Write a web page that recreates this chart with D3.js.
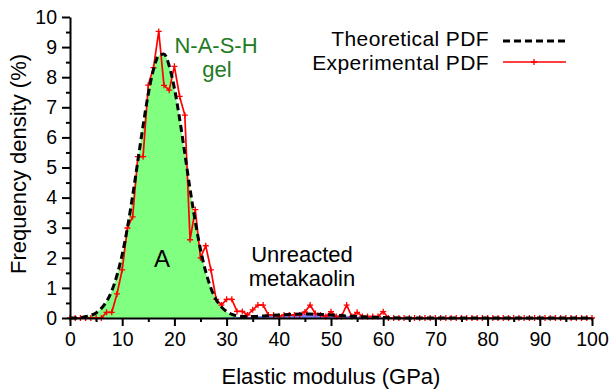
<!DOCTYPE html>
<html>
<head>
<meta charset="utf-8">
<script src="https://cdn.jsdelivr.net/npm/d3@7"></script>
<style>
  body { margin: 0; background: #fff; }
  svg text { font-family: "Liberation Sans", Arial, sans-serif; }
</style>
</head>
<body>
<svg id="chart" width="612" height="389"></svg>
<script>
// experimental histogram, one point per GPa (0..100)
const expE = d3.range(0, 101);
const expF = [0, 0, 0, 0, 0, 0, 0, 0.19, 0.19, 0.8,
  1.6, 2.99, 3.36, 5.36, 5.36, 7.74, 8.32, 9.52, 7.73, 7.57,
  8.36, 7.36, 6.74, 2.6, 3.6, 2.0, 2.4, 1.6, 0.62, 0.43,
  0.62, 0.62, 0.22, 0.22, 0.1, 0.27, 0.43, 0.43, 0.1, 0.1,
  0.05, 0.1, 0.1, 0.1, 0.1, 0.2, 0.43, 0.15, 0.1, 0.05,
  0.21, 0.05, 0.05, 0.43, 0.05, 0.19, 0.05, 0.05, 0.05, 0.05,
  0.21, 0, 0, 0, 0, 0, 0, 0, 0, 0,
  0, 0, 0, 0, 0, 0, 0, 0, 0, 0,
  0, 0, 0, 0, 0, 0, 0, 0, 0, 0,
  0, 0, 0, 0, 0, 0, 0, 0, 0, 0, 0];

// theoretical PDF (N-A-S-H phase + unreacted metakaolin phase)
const theoE = [0, 1, 2, 3, 4, 5, 6, 7, 8, 9, 10, 11, 12, 13, 14, 15, 16, 17, 18, 19,
  20, 21, 22, 23, 24, 25, 26, 27, 28, 29, 30, 31, 32, 33, 34, 35,
  36, 38, 40, 42, 44, 46, 48, 50, 52, 54, 56, 58, 60, 62, 64, 100];
const theoMain = [0, 0, 0.01, 0.05, 0.09, 0.17, 0.32, 0.55, 0.9, 1.42,
  2.11, 3.0, 4.06, 5.22, 6.39, 7.45, 8.26, 8.72, 8.77, 8.38,
  7.63, 6.62, 5.46, 4.28, 3.2, 2.28, 1.54, 0.99, 0.61, 0.36,
  0.2, 0.1, 0.05, 0.02, 0.01, 0,
  0, 0, 0, 0, 0, 0, 0, 0, 0, 0, 0, 0, 0, 0, 0, 0];
const theoMinor = [0, 0, 0, 0, 0, 0, 0, 0, 0, 0,
  0, 0, 0, 0, 0, 0, 0, 0, 0, 0,
  0, 0, 0, 0, 0, 0, 0, 0, 0, 0.01,
  0.013, 0.018, 0.023, 0.03, 0.038, 0.047,
  0.057, 0.079, 0.1, 0.118, 0.129, 0.129, 0.118, 0.1, 0.079, 0.057,
  0.038, 0.023, 0.013, 0.006, 0.003, 0];
const theoTotal = [0, 0, 0.01, 0.05, 0.09, 0.17, 0.32, 0.55, 0.9, 1.42,
  2.11, 3.0, 4.06, 5.22, 6.39, 7.45, 8.26, 8.72, 8.77, 8.38,
  7.63, 6.62, 5.46, 4.28, 3.2, 2.28, 1.54, 0.99, 0.61, 0.37,
  0.213, 0.118, 0.073, 0.05, 0.048, 0.047,
  0.057, 0.079, 0.1, 0.118, 0.129, 0.129, 0.118, 0.1, 0.079, 0.057,
  0.038, 0.023, 0.013, 0.006, 0.003, 0];

const xTicks = [0, 10, 20, 30, 40, 50, 60, 70, 80, 90, 100];
const yTicks = [0, 1, 2, 3, 4, 5, 6, 7, 8, 9, 10];
const xMinor = [5, 15, 25, 35, 45, 55, 65, 75, 85, 95];
const yMinor = [0.5, 1.5, 2.5, 3.5, 4.5, 5.5, 6.5, 7.5, 8.5, 9.5];

const svg = d3.select("#chart");
const x = d3.scaleLinear().domain([0, 100]).range([70, 592]);
const y = d3.scaleLinear().domain([0, 10]).range([318, 17]);

const theo = theoE.map((e, i) => ({ e: e, main: theoMain[i], minor: theoMinor[i], total: theoTotal[i] }));
const exp = expE.map((e, i) => ({ e: e, f: expF[i] }));

// filled phases
svg.append("path")
  .datum(theo)
  .attr("fill", "#80ff80")
  .attr("d", d3.area().x(d => x(d.e)).y0(y(0)).y1(d => y(d.main)).curve(d3.curveMonotoneX));
svg.append("path")
  .datum(theo)
  .attr("fill", "#8080ff")
  .attr("d", d3.area().x(d => x(d.e)).y0(y(0)).y1(d => y(d.minor)).curve(d3.curveMonotoneX));

// experimental line with + markers
svg.append("path")
  .datum(exp)
  .attr("fill", "none")
  .attr("stroke", "#ff0000")
  .attr("stroke-width", 1.7)
  .attr("d", d3.line().x(d => x(d.e)).y(d => y(d.f)));
svg.append("g").selectAll("path")
  .data(exp)
  .join("path")
  .attr("transform", d => "translate(" + x(d.e) + "," + y(d.f) + ")")
  .attr("d", "M-3,0H3M0,-3V3")
  .attr("stroke", "#ff0000")
  .attr("stroke-width", 1.3);

// theoretical dashed
svg.append("path")
  .datum(theo)
  .attr("fill", "none")
  .attr("stroke", "#000")
  .attr("stroke-width", 3)
  .attr("stroke-dasharray", "7,4")
  .attr("d", d3.line().x(d => x(d.e)).y(d => y(d.total)).curve(d3.curveMonotoneX));

// axes
svg.append("g")
  .attr("transform", "translate(0," + y(0) + ")")
  .call(d3.axisBottom(x).tickValues(xTicks).tickSize(8).tickSizeOuter(0).tickPadding(6));
svg.append("g")
  .attr("transform", "translate(0," + y(0) + ")")
  .call(d3.axisBottom(x).tickValues(xMinor).tickSize(4).tickFormat(""))
  .call(g => g.select(".domain").remove());
svg.append("g")
  .attr("transform", "translate(" + x(0) + ",0)")
  .call(d3.axisLeft(y).tickValues(yTicks).tickSize(8).tickSizeOuter(0).tickPadding(5));
svg.append("g")
  .attr("transform", "translate(" + x(0) + ",0)")
  .call(d3.axisLeft(y).tickValues(yMinor).tickSize(4).tickFormat(""))
  .call(g => g.select(".domain").remove());

svg.selectAll(".domain, .tick line").attr("stroke", "#000").attr("stroke-width", 2);
svg.selectAll(".tick text")
  .attr("fill", "#000")
  .style("font-size", "19.5px")
  .style("font-family", "Liberation Sans, Arial, sans-serif");

// axis titles
svg.append("text")
  .attr("x", 331).attr("y", 384)
  .attr("text-anchor", "middle")
  .style("font-size", "22px")
  .text("Elastic modulus (GPa)");
svg.append("text")
  .attr("transform", "translate(26,164) rotate(-90)")
  .attr("text-anchor", "middle")
  .style("font-size", "22px")
  .text("Frequency density (%)");

// annotations
svg.append("text").attr("x", 216).attr("y", 53).attr("text-anchor", "middle")
  .attr("fill", "#1e7b1e").style("font-size", "22px").text("N-A-S-H");
svg.append("text").attr("x", 217).attr("y", 77).attr("text-anchor", "middle")
  .attr("fill", "#1e7b1e").style("font-size", "22px").text("gel");
svg.append("text").attr("x", 162).attr("y", 267).attr("text-anchor", "middle")
  .style("font-size", "24px").text("A");
svg.append("text").attr("x", 302).attr("y", 262).attr("text-anchor", "middle")
  .style("font-size", "22px").text("Unreacted");
svg.append("text").attr("x", 302).attr("y", 286).attr("text-anchor", "middle")
  .style("font-size", "22px").text("metakaolin");

// legend
const legend = svg.append("g");
legend.append("text").attr("x", 489).attr("y", 45.5).attr("text-anchor", "end")
  .style("font-size", "21px").style("letter-spacing", "0.4px").text("Theoretical PDF");
legend.append("line").attr("x1", 503).attr("x2", 566).attr("y1", 41).attr("y2", 41)
  .attr("stroke", "#000").attr("stroke-width", 3).attr("stroke-dasharray", "7,4");
legend.append("text").attr("x", 489).attr("y", 70).attr("text-anchor", "end")
  .style("font-size", "21px").style("letter-spacing", "0.4px").text("Experimental PDF");
legend.append("line").attr("x1", 503).attr("x2", 566).attr("y1", 62).attr("y2", 62)
  .attr("stroke", "#ff0000").attr("stroke-width", 1.7);
legend.append("path").attr("transform", "translate(534,62)").attr("d", "M-3,0H3M0,-3V3")
  .attr("stroke", "#ff0000").attr("stroke-width", 1.3);
</script>
</body>
</html>
